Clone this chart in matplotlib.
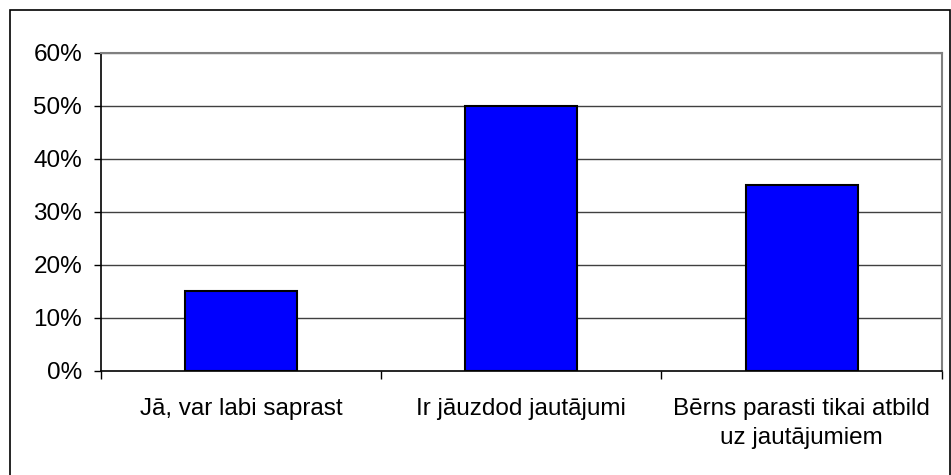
import matplotlib
matplotlib.use("Agg")
import matplotlib.pyplot as plt
from matplotlib.patches import Rectangle
from matplotlib.ticker import FuncFormatter

categories = ["Jā, var labi saprast", "Ir jāuzdod jautājumi", "Bērns parasti tikai atbild\nuz jautājumiem"]
values = [0.15, 0.50, 0.35]
yticks = [0.0, 0.1, 0.2, 0.3, 0.4, 0.5, 0.6]

plt.rcParams["font.family"] = ["Liberation Sans", "DejaVu Sans"]

fig = plt.figure(figsize=(9.51, 4.75), dpi=100)
ax = fig.add_axes([101 / 951, 1 - 370.7 / 475, 840.7 / 951, 318 / 475])

x = list(range(len(categories)))
ax.bar(x, values, width=0.4, color="#0000FF", edgecolor="black", linewidth=1.5, zorder=3)

ax.set_xlim(-0.5, len(categories) - 0.5)
ax.set_ylim(0, 0.6)
ax.set_yticks(yticks)
ax.yaxis.set_major_formatter(FuncFormatter(lambda v, _: f"{v * 100:.0f}%"))
for v in yticks[1:]:
    ax.axhline(v, color="#404040" if v < 0.6 else "#808080", linewidth=1.0, zorder=1)

# category labels centred, ticks on category boundaries
ax.set_xticks(x)
ax.set_xticklabels(categories, fontsize=17.5, linespacing=1.38)
ax.tick_params(axis="x", length=0, pad=20)
ax.set_xticks([i - 0.5 for i in range(len(categories) + 1)], minor=True)
ax.tick_params(axis="x", which="minor", length=6, width=1, direction="out", color="black")
ax.tick_params(axis="y", length=5, width=1, direction="out", labelsize=17.5, pad=8.5)

for side in ("top", "right"):
    ax.spines[side].set_color("#808080")
    ax.spines[side].set_linewidth(1.5)
for side in ("left", "bottom"):
    ax.spines[side].set_color("black")
    ax.spines[side].set_linewidth(1.2)

fig.patches.append(Rectangle((9.5 / 951, -0.01), 940.5 / 951, 1.01 - 10 / 475,
                             transform=fig.transFigure, fill=False,
                             edgecolor="black", linewidth=1.2))

fig.savefig("out.png", dpi=100)
